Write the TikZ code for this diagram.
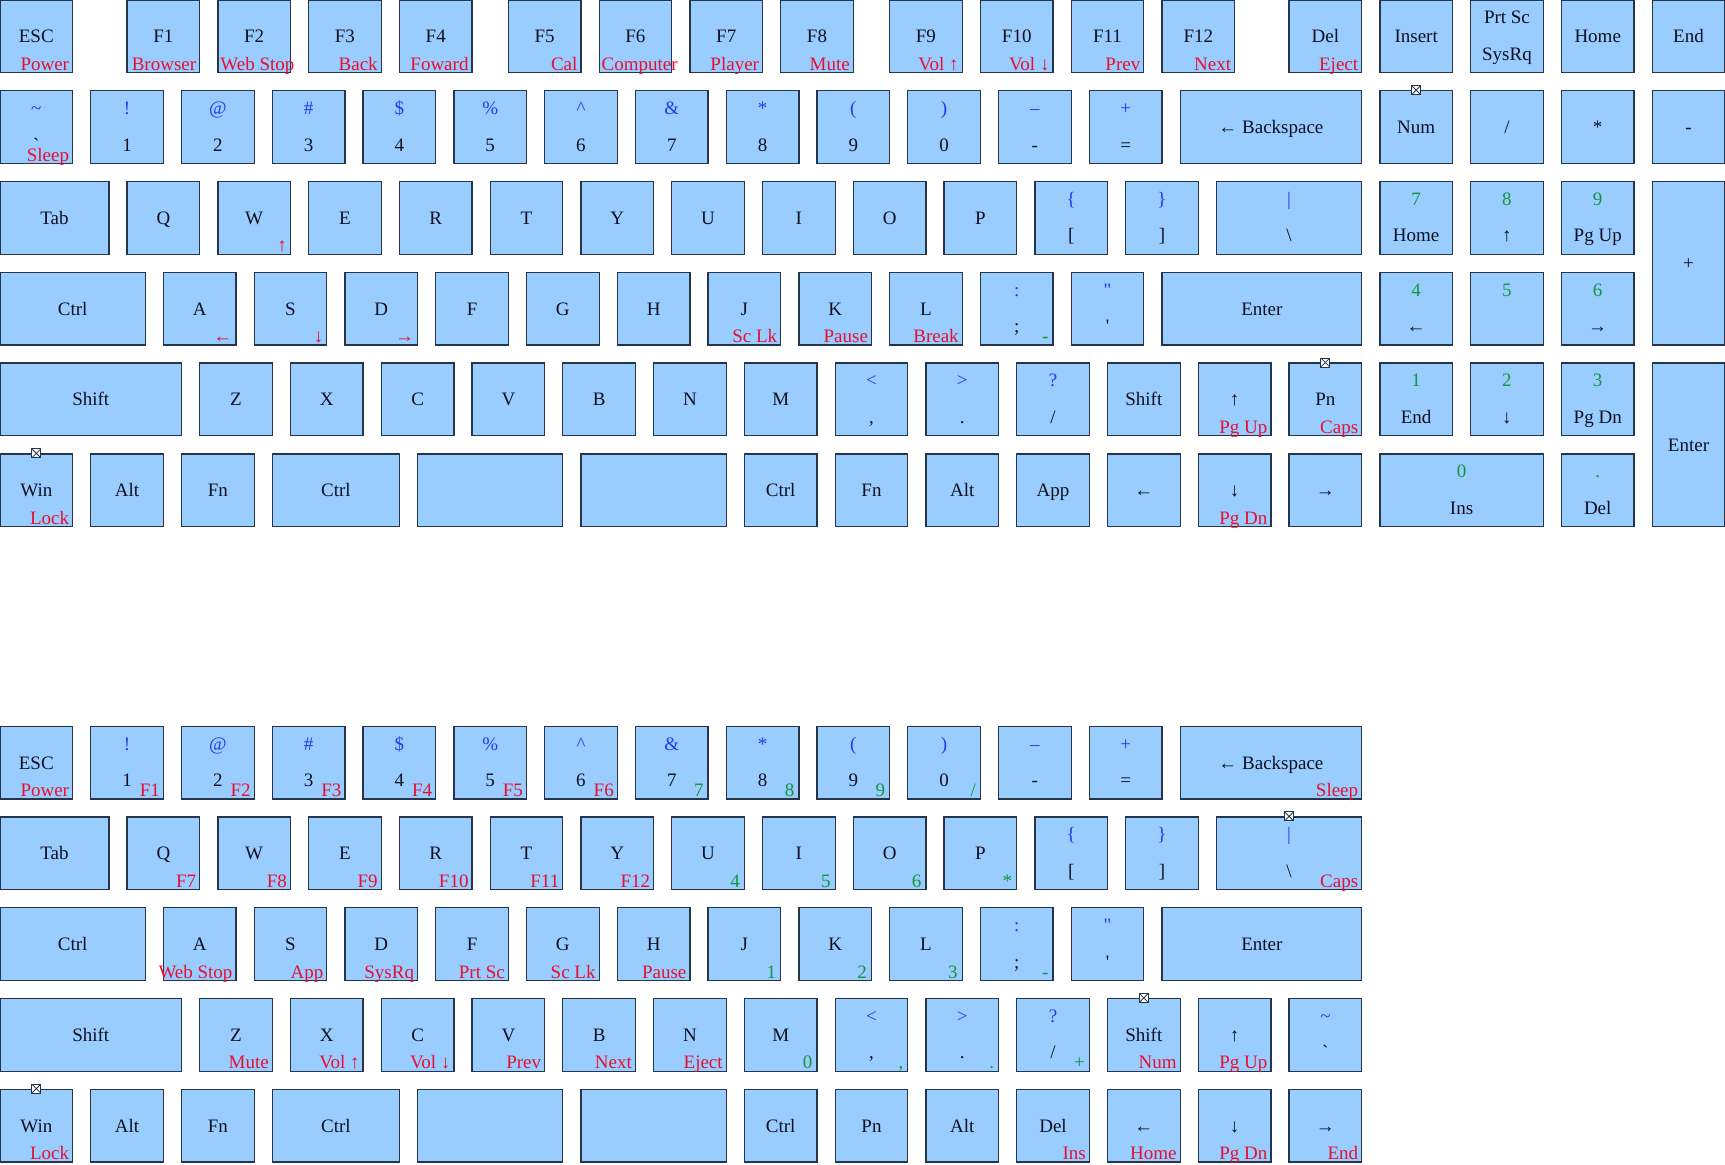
\documentclass[tikz,border=0pt]{standalone}
\usepackage{fontspec}
\setmainfont{Liberation Serif}[Ligatures=TeXOff]
\usetikzlibrary{calc}
\definecolor{keyfill}{HTML}{99CCFF}
\definecolor{keyline}{HTML}{26354A}
\definecolor{keytext}{HTML}{101020}
\definecolor{shiftblue}{HTML}{1E3CF0}
\definecolor{fnred}{HTML}{E8102E}
\definecolor{padgreen}{HTML}{16963A}
\newcommand{\KP}{90.78}
\newcommand{\KeyBox}[5]{\node[keybox, minimum width={#4*\KP*1pt}, minimum height={#5*\KP*1pt}] (#1) at ({(#2+#4/2)*\KP},{(#3+#5/2)*\KP}) {};}
\newcommand{\KeyU}[3]{\KeyBox{#1}{#2}{#3}{0.8}{0.8}}
\newcommand{\KeyMain}[2]{\node[lab, anchor=base] (#1-m) at ($(#1.center)+(0,6.5)$) {#2};}
\newcommand{\KeyTop}[3][shiftblue]{\node[lab, text=#1, anchor=base] (#2-t) at ($(#2.north)+(0,24.5)$) {#3};}
\newcommand{\KeyBot}[2]{\node[lab, anchor=base] (#1-b) at ($(#1.north)+(0,61)$) {#2};}
\newcommand{\KeyFn}[3][fnred]{\node[lab, text=#1, anchor=base east] (#2-f) at ($(#2.south east)+(-4,-3)$) {#3};}
\newcommand{\KeyFnL}[2]{\node[lab, text=fnred, anchor=base west] (#1-f) at ($(#1.south west)+(3,-3)$) {#2};}
\newcommand{\KeyNum}[2]{\node[lab, text=padgreen, anchor=base east] (#1-g) at ($(#1.south east)+(-5,-3)$) {#2};}
\newcommand{\KeyLed}[1]{\node[ledbox] (#1-led) at (#1.north) {};}
\begin{document}
\begin{tikzpicture}[x=1pt,y=-1pt,
  keybox/.style={draw=keyline, fill=keyfill, line width=1.3pt, inner sep=0pt, rectangle},
  lab/.style={inner sep=0pt, text=keytext, font=\fontsize{19}{22}\selectfont},
  ledbox/.style={draw=keyline, fill=white, line width=0.9pt, minimum size=9pt, inner sep=0pt, rectangle,
    path picture={\draw[keyline, line width=0.8pt] (path picture bounding box.south west) -- (path picture bounding box.north east) (path picture bounding box.north west) -- (path picture bounding box.south east);}}]
\useasboundingbox (0,0) rectangle (1725,1165);
% ===== upper keyboard =====
% row 0
\KeyU{esc}{0}{0}\KeyMain{esc}{ESC}\KeyFn{esc}{Power}
\KeyU{f1}{1.4}{0}\KeyMain{f1}{F1}\KeyFn{f1}{Browser}
\KeyU{f2}{2.4}{0}\KeyMain{f2}{F2}\KeyFnL{f2}{Web Stop}
\KeyU{f3}{3.4}{0}\KeyMain{f3}{F3}\KeyFn{f3}{Back}
\KeyU{f4}{4.4}{0}\KeyMain{f4}{F4}\KeyFn{f4}{Foward}
\KeyU{f5}{5.6}{0}\KeyMain{f5}{F5}\KeyFn{f5}{Cal}
\KeyU{f6}{6.6}{0}\KeyMain{f6}{F6}\KeyFnL{f6}{Computer}
\KeyU{f7}{7.6}{0}\KeyMain{f7}{F7}\KeyFn{f7}{Player}
\KeyU{f8}{8.6}{0}\KeyMain{f8}{F8}\KeyFn{f8}{Mute}
\KeyU{f9}{9.8}{0}\KeyMain{f9}{F9}\KeyFn{f9}{Vol ↑}
\KeyU{f10}{10.8}{0}\KeyMain{f10}{F10}\KeyFn{f10}{Vol ↓}
\KeyU{f11}{11.8}{0}\KeyMain{f11}{F11}\KeyFn{f11}{Prev}
\KeyU{f12}{12.8}{0}\KeyMain{f12}{F12}\KeyFn{f12}{Next}
\KeyU{del}{14.2}{0}\KeyMain{del}{Del}\KeyFn{del}{Eject}
\KeyU{insert}{15.2}{0}\KeyMain{insert}{Insert}
\KeyU{prt}{16.2}{0}\KeyTop[keytext]{prt}{Prt Sc}\KeyBot{prt}{SysRq}
\KeyU{home}{17.2}{0}\KeyMain{home}{Home}
\KeyU{kend}{18.2}{0}\KeyMain{kend}{End}
% row 1
\KeyU{grave}{0}{1}\KeyTop{grave}{\textasciitilde}\KeyBot{grave}{\raisebox{0pt}[\height][-9pt]{`}}\KeyFn{grave}{Sleep}
\KeyU{n1}{1}{1}\KeyTop{n1}{!}\KeyBot{n1}{1}
\KeyU{n2}{2}{1}\KeyTop{n2}{@}\KeyBot{n2}{2}
\KeyU{n3}{3}{1}\KeyTop{n3}{\#}\KeyBot{n3}{3}
\KeyU{n4}{4}{1}\KeyTop{n4}{\$}\KeyBot{n4}{4}
\KeyU{n5}{5}{1}\KeyTop{n5}{\%}\KeyBot{n5}{5}
\KeyU{n6}{6}{1}\KeyTop{n6}{\textasciicircum}\KeyBot{n6}{6}
\KeyU{n7}{7}{1}\KeyTop{n7}{\&}\KeyBot{n7}{7}
\KeyU{n8}{8}{1}\KeyTop{n8}{*}\KeyBot{n8}{8}
\KeyU{n9}{9}{1}\KeyTop{n9}{(}\KeyBot{n9}{9}
\KeyU{n0}{10}{1}\KeyTop{n0}{)}\KeyBot{n0}{0}
\KeyU{minus}{11}{1}\KeyTop{minus}{–}\KeyBot{minus}{-}
\KeyU{equal}{12}{1}\KeyTop{equal}{+}\KeyBot{equal}{=}
\KeyBox{bksp}{13}{1}{2}{0.8}\KeyMain{bksp}{← Backspace}
\KeyU{num}{15.2}{1}\KeyMain{num}{Num}\KeyLed{num}
\KeyU{pslash}{16.2}{1}\KeyMain{pslash}{/}
\KeyU{pstar}{17.2}{1}\KeyMain{pstar}{*}
\KeyU{pminus}{18.2}{1}\KeyMain{pminus}{-}
% row 2
\KeyBox{tab}{0}{2}{1.2}{0.8}\KeyMain{tab}{Tab}
\KeyU{kq}{1.4}{2}\KeyMain{kq}{Q}
\KeyU{kw}{2.4}{2}\KeyMain{kw}{W}\KeyFn{kw}{↑}
\KeyU{ke}{3.4}{2}\KeyMain{ke}{E}
\KeyU{kr}{4.4}{2}\KeyMain{kr}{R}
\KeyU{kt}{5.4}{2}\KeyMain{kt}{T}
\KeyU{ky}{6.4}{2}\KeyMain{ky}{Y}
\KeyU{ku}{7.4}{2}\KeyMain{ku}{U}
\KeyU{ki}{8.4}{2}\KeyMain{ki}{I}
\KeyU{ko}{9.4}{2}\KeyMain{ko}{O}
\KeyU{kp}{10.4}{2}\KeyMain{kp}{P}
\KeyU{lbr}{11.4}{2}\KeyTop{lbr}{\{}\KeyBot{lbr}{[}
\KeyU{rbr}{12.4}{2}\KeyTop{rbr}{\}}\KeyBot{rbr}{]}
\KeyBox{bsl}{13.4}{2}{1.6}{0.8}\KeyTop{bsl}{|}\KeyBot{bsl}{\textbackslash}
\KeyU{p7}{15.2}{2}\KeyTop[padgreen]{p7}{7}\KeyBot{p7}{Home}
\KeyU{p8}{16.2}{2}\KeyTop[padgreen]{p8}{8}\KeyBot{p8}{↑}
\KeyU{p9}{17.2}{2}\KeyTop[padgreen]{p9}{9}\KeyBot{p9}{Pg Up}
\KeyBox{pplus}{18.2}{2}{0.8}{1.8}\KeyMain{pplus}{+}
% row 3
\KeyBox{ctrl}{0}{3}{1.6}{0.8}\KeyMain{ctrl}{Ctrl}
\KeyU{ka}{1.8}{3}\KeyMain{ka}{A}\KeyFn{ka}{←}
\KeyU{ks}{2.8}{3}\KeyMain{ks}{S}\KeyFn{ks}{↓}
\KeyU{kd}{3.8}{3}\KeyMain{kd}{D}\KeyFn{kd}{→}
\KeyU{kf}{4.8}{3}\KeyMain{kf}{F}
\KeyU{kg}{5.8}{3}\KeyMain{kg}{G}
\KeyU{kh}{6.8}{3}\KeyMain{kh}{H}
\KeyU{kj}{7.8}{3}\KeyMain{kj}{J}\KeyFn{kj}{Sc Lk}
\KeyU{kk}{8.8}{3}\KeyMain{kk}{K}\KeyFn{kk}{Pause}
\KeyU{kl}{9.8}{3}\KeyMain{kl}{L}\KeyFn{kl}{Break}
\KeyU{semi}{10.8}{3}\KeyTop{semi}{:}\KeyBot{semi}{;}\KeyNum{semi}{-}
\KeyU{quote}{11.8}{3}\KeyTop{quote}{"}\KeyBot{quote}{'}
\KeyBox{enter}{12.8}{3}{2.2}{0.8}\KeyMain{enter}{Enter}
\KeyU{p4}{15.2}{3}\KeyTop[padgreen]{p4}{4}\KeyBot{p4}{←}
\KeyU{p5}{16.2}{3}\KeyTop[padgreen]{p5}{5}
\KeyU{p6}{17.2}{3}\KeyTop[padgreen]{p6}{6}\KeyBot{p6}{→}
% row 4
\KeyBox{lshift}{0}{4}{2}{0.8}\KeyMain{lshift}{Shift}
\KeyU{kz}{2.2}{4}\KeyMain{kz}{Z}
\KeyU{kx}{3.2}{4}\KeyMain{kx}{X}
\KeyU{kc}{4.2}{4}\KeyMain{kc}{C}
\KeyU{kv}{5.2}{4}\KeyMain{kv}{V}
\KeyU{kb}{6.2}{4}\KeyMain{kb}{B}
\KeyU{kn}{7.2}{4}\KeyMain{kn}{N}
\KeyU{km}{8.2}{4}\KeyMain{km}{M}
\KeyU{comma}{9.2}{4}\KeyTop{comma}{<}\KeyBot{comma}{,}
\KeyU{period}{10.2}{4}\KeyTop{period}{>}\KeyBot{period}{.}
\KeyU{slash}{11.2}{4}\KeyTop{slash}{?}\KeyBot{slash}{/}
\KeyU{rshift}{12.2}{4}\KeyMain{rshift}{Shift}
\KeyU{aup}{13.2}{4}\KeyMain{aup}{↑}\KeyFn{aup}{Pg Up}
\KeyU{pn}{14.2}{4}\KeyMain{pn}{Pn}\KeyLed{pn}\KeyFn{pn}{Caps}
\KeyU{p1}{15.2}{4}\KeyTop[padgreen]{p1}{1}\KeyBot{p1}{End}
\KeyU{p2}{16.2}{4}\KeyTop[padgreen]{p2}{2}\KeyBot{p2}{↓}
\KeyU{p3}{17.2}{4}\KeyTop[padgreen]{p3}{3}\KeyBot{p3}{Pg Dn}
\KeyBox{penter}{18.2}{4}{0.8}{1.8}\KeyMain{penter}{Enter}
% row 5
\KeyU{win}{0}{5}\KeyMain{win}{Win}\KeyLed{win}\KeyFn{win}{Lock}
\KeyU{lalt}{1}{5}\KeyMain{lalt}{Alt}
\KeyU{lfn}{2}{5}\KeyMain{lfn}{Fn}
\KeyBox{lctrl}{3}{5}{1.4}{0.8}\KeyMain{lctrl}{Ctrl}
\KeyBox{spa}{4.6}{5}{1.6}{0.8}
\KeyBox{spb}{6.4}{5}{1.6}{0.8}
\KeyU{rctrl}{8.2}{5}\KeyMain{rctrl}{Ctrl}
\KeyU{rfn}{9.2}{5}\KeyMain{rfn}{Fn}
\KeyU{ralt}{10.2}{5}\KeyMain{ralt}{Alt}
\KeyU{app}{11.2}{5}\KeyMain{app}{App}
\KeyU{aleft}{12.2}{5}\KeyMain{aleft}{←}
\KeyU{adown}{13.2}{5}\KeyMain{adown}{↓}\KeyFn{adown}{Pg Dn}
\KeyU{aright}{14.2}{5}\KeyMain{aright}{→}
\KeyBox{p0}{15.2}{5}{1.8}{0.8}\KeyTop[padgreen]{p0}{0}\KeyBot{p0}{Ins}
\KeyU{pdot}{17.2}{5}\KeyTop[padgreen]{pdot}{.}\KeyBot{pdot}{Del}
% ===== lower keyboard =====
% row 8
\KeyU{Lesc}{0}{8}\KeyMain{Lesc}{ESC}\KeyFn{Lesc}{Power}
\KeyU{L1}{1}{8}\KeyTop{L1}{!}\KeyBot{L1}{1}\KeyFn{L1}{F1}
\KeyU{L2}{2}{8}\KeyTop{L2}{@}\KeyBot{L2}{2}\KeyFn{L2}{F2}
\KeyU{L3}{3}{8}\KeyTop{L3}{\#}\KeyBot{L3}{3}\KeyFn{L3}{F3}
\KeyU{L4}{4}{8}\KeyTop{L4}{\$}\KeyBot{L4}{4}\KeyFn{L4}{F4}
\KeyU{L5}{5}{8}\KeyTop{L5}{\%}\KeyBot{L5}{5}\KeyFn{L5}{F5}
\KeyU{L6}{6}{8}\KeyTop{L6}{\textasciicircum}\KeyBot{L6}{6}\KeyFn{L6}{F6}
\KeyU{L7}{7}{8}\KeyTop{L7}{\&}\KeyBot{L7}{7}\KeyNum{L7}{7}
\KeyU{L8}{8}{8}\KeyTop{L8}{*}\KeyBot{L8}{8}\KeyNum{L8}{8}
\KeyU{L9}{9}{8}\KeyTop{L9}{(}\KeyBot{L9}{9}\KeyNum{L9}{9}
\KeyU{L0}{10}{8}\KeyTop{L0}{)}\KeyBot{L0}{0}\KeyNum{L0}{/}
\KeyU{Lminus}{11}{8}\KeyTop{Lminus}{–}\KeyBot{Lminus}{-}
\KeyU{Lequal}{12}{8}\KeyTop{Lequal}{+}\KeyBot{Lequal}{=}
\KeyBox{Lbksp}{13}{8}{2}{0.8}\KeyMain{Lbksp}{← Backspace}\KeyFn{Lbksp}{Sleep}
% row 9
\KeyBox{Ltab}{0}{9}{1.2}{0.8}\KeyMain{Ltab}{Tab}
\KeyU{Lq}{1.4}{9}\KeyMain{Lq}{Q}\KeyFn{Lq}{F7}
\KeyU{Lw}{2.4}{9}\KeyMain{Lw}{W}\KeyFn{Lw}{F8}
\KeyU{Le}{3.4}{9}\KeyMain{Le}{E}\KeyFn{Le}{F9}
\KeyU{Lr}{4.4}{9}\KeyMain{Lr}{R}\KeyFn{Lr}{F10}
\KeyU{Lt}{5.4}{9}\KeyMain{Lt}{T}\KeyFn{Lt}{F11}
\KeyU{Ly}{6.4}{9}\KeyMain{Ly}{Y}\KeyFn{Ly}{F12}
\KeyU{Lu}{7.4}{9}\KeyMain{Lu}{U}\KeyNum{Lu}{4}
\KeyU{Li}{8.4}{9}\KeyMain{Li}{I}\KeyNum{Li}{5}
\KeyU{Lo}{9.4}{9}\KeyMain{Lo}{O}\KeyNum{Lo}{6}
\KeyU{Lp}{10.4}{9}\KeyMain{Lp}{P}\KeyNum{Lp}{*}
\KeyU{Llbr}{11.4}{9}\KeyTop{Llbr}{\{}\KeyBot{Llbr}{[}
\KeyU{Lrbr}{12.4}{9}\KeyTop{Lrbr}{\}}\KeyBot{Lrbr}{]}
\KeyBox{Lbsl}{13.4}{9}{1.6}{0.8}\KeyTop{Lbsl}{|}\KeyBot{Lbsl}{\textbackslash}\KeyLed{Lbsl}\KeyFn{Lbsl}{Caps}
% row 10
\KeyBox{Lctrl}{0}{10}{1.6}{0.8}\KeyMain{Lctrl}{Ctrl}
\KeyU{La}{1.8}{10}\KeyMain{La}{A}\KeyFn{La}{Web Stop}
\KeyU{Ls}{2.8}{10}\KeyMain{Ls}{S}\KeyFn{Ls}{App}
\KeyU{Ld}{3.8}{10}\KeyMain{Ld}{D}\KeyFn{Ld}{SysRq}
\KeyU{Lf}{4.8}{10}\KeyMain{Lf}{F}\KeyFn{Lf}{Prt Sc}
\KeyU{Lg}{5.8}{10}\KeyMain{Lg}{G}\KeyFn{Lg}{Sc Lk}
\KeyU{Lh}{6.8}{10}\KeyMain{Lh}{H}\KeyFn{Lh}{Pause}
\KeyU{Lj}{7.8}{10}\KeyMain{Lj}{J}\KeyNum{Lj}{1}
\KeyU{Lk}{8.8}{10}\KeyMain{Lk}{K}\KeyNum{Lk}{2}
\KeyU{Ll}{9.8}{10}\KeyMain{Ll}{L}\KeyNum{Ll}{3}
\KeyU{Lsemi}{10.8}{10}\KeyTop{Lsemi}{:}\KeyBot{Lsemi}{;}\KeyNum{Lsemi}{-}
\KeyU{Lquote}{11.8}{10}\KeyTop{Lquote}{"}\KeyBot{Lquote}{'}
\KeyBox{Lenter}{12.8}{10}{2.2}{0.8}\KeyMain{Lenter}{Enter}
% row 11
\KeyBox{Llshift}{0}{11}{2}{0.8}\KeyMain{Llshift}{Shift}
\KeyU{Lz}{2.2}{11}\KeyMain{Lz}{Z}\KeyFn{Lz}{Mute}
\KeyU{Lx}{3.2}{11}\KeyMain{Lx}{X}\KeyFn{Lx}{Vol ↑}
\KeyU{Lc}{4.2}{11}\KeyMain{Lc}{C}\KeyFn{Lc}{Vol ↓}
\KeyU{Lv}{5.2}{11}\KeyMain{Lv}{V}\KeyFn{Lv}{Prev}
\KeyU{Lb}{6.2}{11}\KeyMain{Lb}{B}\KeyFn{Lb}{Next}
\KeyU{Ln}{7.2}{11}\KeyMain{Ln}{N}\KeyFn{Ln}{Eject}
\KeyU{Lm}{8.2}{11}\KeyMain{Lm}{M}\KeyNum{Lm}{0}
\KeyU{Lcomma}{9.2}{11}\KeyTop{Lcomma}{<}\KeyBot{Lcomma}{,}\KeyNum{Lcomma}{,}
\KeyU{Lperiod}{10.2}{11}\KeyTop{Lperiod}{>}\KeyBot{Lperiod}{.}\KeyNum{Lperiod}{.}
\KeyU{Lslash}{11.2}{11}\KeyTop{Lslash}{?}\KeyBot{Lslash}{/}\KeyNum{Lslash}{+}
\KeyU{Lrshift}{12.2}{11}\KeyMain{Lrshift}{Shift}\KeyLed{Lrshift}\KeyFn{Lrshift}{Num}
\KeyU{Lup}{13.2}{11}\KeyMain{Lup}{↑}\KeyFn{Lup}{Pg Up}
\KeyU{Lgrave}{14.2}{11}\KeyTop{Lgrave}{\textasciitilde}\KeyBot{Lgrave}{`}
% row 12
\KeyU{Lwin}{0}{12}\KeyMain{Lwin}{Win}\KeyLed{Lwin}\KeyFn{Lwin}{Lock}
\KeyU{Llalt}{1}{12}\KeyMain{Llalt}{Alt}
\KeyU{Llfn}{2}{12}\KeyMain{Llfn}{Fn}
\KeyBox{Llctrl}{3}{12}{1.4}{0.8}\KeyMain{Llctrl}{Ctrl}
\KeyBox{Lspa}{4.6}{12}{1.6}{0.8}
\KeyBox{Lspb}{6.4}{12}{1.6}{0.8}
\KeyU{Lrctrl}{8.2}{12}\KeyMain{Lrctrl}{Ctrl}
\KeyU{Lpn}{9.2}{12}\KeyMain{Lpn}{Pn}
\KeyU{Lralt}{10.2}{12}\KeyMain{Lralt}{Alt}
\KeyU{Ldel}{11.2}{12}\KeyMain{Ldel}{Del}\KeyFn{Ldel}{Ins}
\KeyU{Lleft}{12.2}{12}\KeyMain{Lleft}{←}\KeyFn{Lleft}{Home}
\KeyU{Ldown}{13.2}{12}\KeyMain{Ldown}{↓}\KeyFn{Ldown}{Pg Dn}
\KeyU{Lright}{14.2}{12}\KeyMain{Lright}{→}\KeyFn{Lright}{End}
\end{tikzpicture}
\end{document}
